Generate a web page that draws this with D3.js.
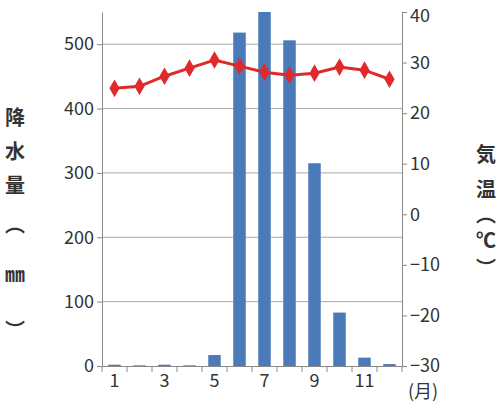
<!DOCTYPE html>
<html><head><meta charset="utf-8">
<script src="https://cdn.jsdelivr.net/npm/d3@7"></script>
<style>body{margin:0;background:#fff}text{font-family:"Noto Sans CJK JP",sans-serif;fill:#333}</style>
</head><body><svg width="500" height="419"></svg>
<script>
const months=[1,2,3,4,5,6,7,8,9,10,11,12];
const precip=[2,1,2,1,17,518,560,506,315,83,13,3];
const temp=[24.9,25.3,27.3,28.9,30.5,29.3,28.1,27.5,27.9,29.1,28.5,26.7];
const leftTicks=[0,100,200,300,400,500];
const rightTicks=[-30,-20,-10,0,10,20,30,40];
const xLabels=[1,3,5,7,9,11];
const svg=d3.select("svg");
const L=102,R=402,T=12,B=366;
const x=d3.scaleBand().domain(months).range([L,R]).paddingInner(0.5).paddingOuter(0.25);
const yl=d3.scaleLinear().domain([0,550]).range([B,T]);
const yr=d3.scaleLinear().domain([-30,40]).range([B,T]);
svg.append("g").selectAll("line").data(leftTicks.slice(1)).join("line")
 .attr("x1",L).attr("x2",R).attr("y1",d=>yl(d)).attr("y2",d=>yl(d)).attr("stroke","#aaa");
svg.append("clipPath").attr("id","c").append("rect").attr("x",L).attr("y",T).attr("width",R-L).attr("height",B-T);
svg.append("g").attr("clip-path","url(#c)").selectAll("rect").data(precip).join("rect")
 .attr("x",(d,i)=>x(months[i])).attr("width",x.bandwidth()).attr("y",d=>yl(d)).attr("height",d=>B-yl(d)).attr("fill","#4a7ab8");
const ax=(g)=>g.call(s=>s.select(".domain").attr("stroke","#888")).call(s=>s.selectAll(".tick line").attr("stroke","#888")).call(s=>s.selectAll("text").attr("font-size",18).attr("fill","#333"));
svg.append("g").attr("transform",`translate(${L},0)`).call(d3.axisLeft(yl).tickValues(leftTicks).tickSize(5).tickSizeOuter(0)).call(ax);
svg.append("g").attr("transform",`translate(${R},0)`).call(d3.axisRight(yr).tickValues(rightTicks).tickSize(5).tickSizeOuter(0)).call(ax)
 .call(s=>s.selectAll("text").filter(d=>d===40).attr("dy","0.5em"));
svg.append("g").attr("transform",`translate(0,${B})`).call(d3.axisBottom(x).tickValues(xLabels).tickSize(0).tickPadding(8)).call(ax);
svg.append("g").selectAll("line").data(d3.range(13)).join("line")
 .attr("x1",d=>L+d*25).attr("x2",d=>L+d*25).attr("y1",B).attr("y2",B+6).attr("stroke","#888");
svg.append("text").attr("x",408).attr("y",398).attr("font-size",18).text("(月)");
const line=d3.line().x((d,i)=>x(months[i])+x.bandwidth()/2).y(d=>yr(d));
svg.append("path").datum(temp).attr("d",line).attr("fill","none").attr("stroke","#e0292b").attr("stroke-width",3);
svg.append("g").selectAll("path").data(temp).join("path")
 .attr("d",d3.symbol(d3.symbolDiamond,90)).attr("fill","#e0292b")
 .attr("transform",(d,i)=>`translate(${x(months[i])+x.bandwidth()/2},${yr(d)})`);
const lab=(chars,xx,ys)=>chars.forEach((c,i)=>svg.append("text").attr("x",xx).attr("y",ys[i]).attr("text-anchor","middle").attr("font-size",20).attr("font-weight","bold").text(c));
lab(["降","水","量","︵","㎜","︶"],15,[125,159,193,232,282,338]);
lab(["気","温","︵","℃","︶"],486,[162,197,222,248,276]);
</script></body></html>
